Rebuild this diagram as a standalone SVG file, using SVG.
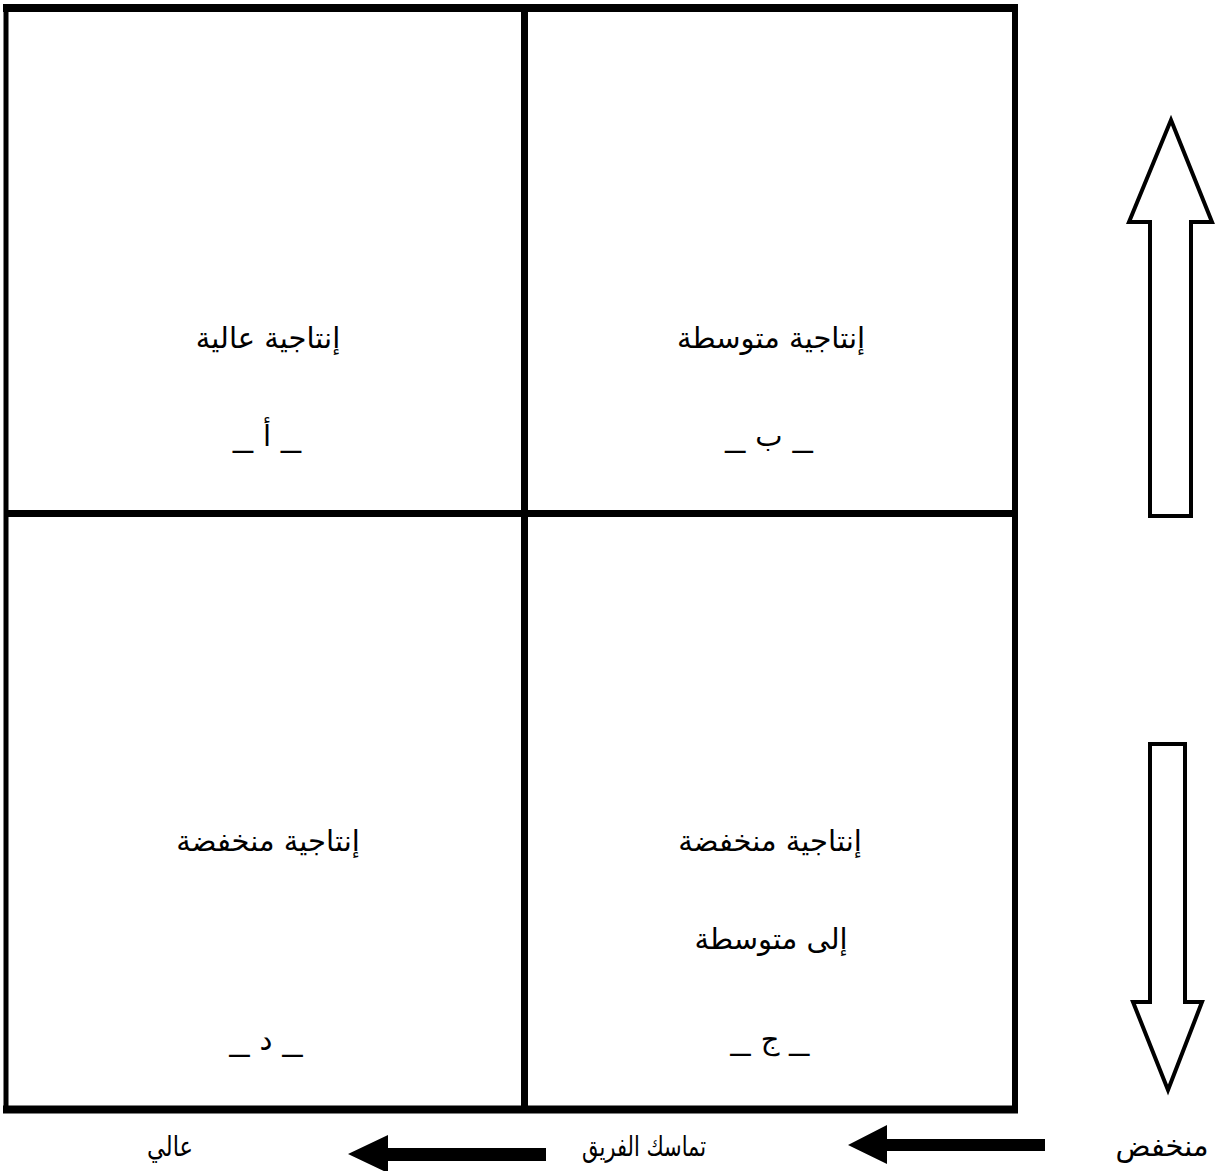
<svg xmlns="http://www.w3.org/2000/svg" width="1215" height="1171" viewBox="0 0 1215 1171">
<style>
.t{font-family:"DejaVu Sans","Noto Sans",sans-serif;font-size:29px;fill:#000;text-anchor:middle}
.us{font-family:"Liberation Sans",sans-serif;font-size:36px}
.g{stroke:#000;fill:none}
.ho{fill:#fff;stroke:#000;stroke-width:4;stroke-linejoin:miter}
.so{fill:#000;stroke:none}
</style>
<rect width="1215" height="1171" fill="#fff"/>
<g id="grid" class="g">
<line x1="3" y1="8" x2="1018" y2="8" stroke-width="8"/>
<line x1="3" y1="1109.5" x2="1018" y2="1109.5" stroke-width="8"/>
<line x1="6" y1="4" x2="6" y2="1113" stroke-width="5"/>
<line x1="1015" y1="4" x2="1015" y2="1113" stroke-width="6"/>
<line x1="524.5" y1="8" x2="524.5" y2="1109" stroke-width="7"/>
<line x1="6" y1="513.5" x2="1015" y2="513.5" stroke-width="7"/>
</g>
<g id="q-a">
<text class="t" x="268" y="348">إنتاجية عالية</text>
<text class="t" x="267" y="446"><tspan class="us">_ </tspan>أ<tspan class="us"> _</tspan></text>
</g>
<g id="q-b">
<text class="t" x="771" y="348">إنتاجية متوسطة</text>
<text class="t" x="769" y="446"><tspan class="us">_ </tspan>ب<tspan class="us"> _</tspan></text>
</g>
<g id="q-d">
<text class="t" x="268" y="851">إنتاجية منخفضة</text>
<text class="t" x="266" y="1050"><tspan class="us">_ </tspan>د<tspan class="us"> _</tspan></text>
</g>
<g id="q-c">
<text class="t" x="770" y="851">إنتاجية منخفضة</text>
<text class="t" x="771" y="949">إلى متوسطة</text>
<text class="t" x="770" y="1049"><tspan class="us">_ </tspan>ج<tspan class="us"> _</tspan></text>
</g>
<g id="axis-labels">
<text class="t" x="170" y="1156" style="font-size:28px" textLength="46" lengthAdjust="spacingAndGlyphs">عالي</text>
<text class="t" x="644" y="1156" style="font-size:28px" textLength="124" lengthAdjust="spacingAndGlyphs">تماسك الفريق</text>
<text class="t" x="1162" y="1156">منخفض</text>
</g>
<g id="connectors">
<polygon class="ho" points="1171,120 1212,222 1191,222 1191,516 1150,516 1150,222 1129,222"/>
<polygon class="ho" points="1150,744 1185,744 1185,1002 1202,1002 1168,1090 1133,1002 1150,1002"/>
<polygon class="so" points="848,1145 887,1125 887,1139 1045,1139 1045,1151 887,1151 887,1164"/>
<polygon class="so" points="348,1154 388,1135 388,1148 546,1148 546,1161 388,1161 388,1173"/>
</g>
</svg>
